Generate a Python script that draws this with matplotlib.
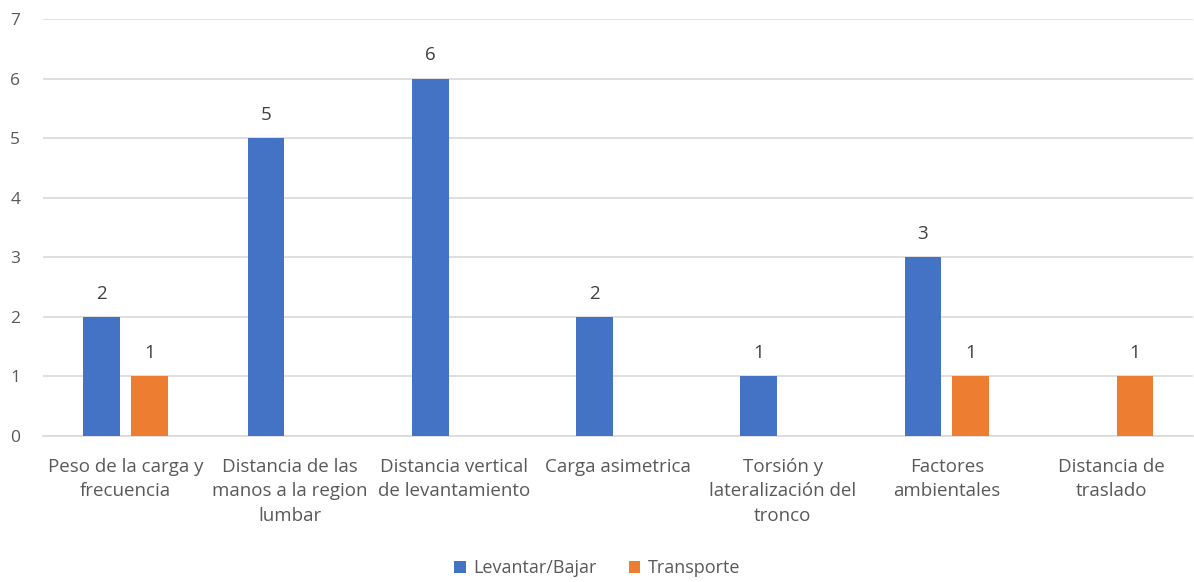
import matplotlib
matplotlib.use("Agg")
import matplotlib.pyplot as plt
import numpy as np

categories = [
    "Peso de la carga y\nfrecuencia",
    "Distancia de las\nmanos a la region\nlumbar",
    "Distancia vertical\nde levantamiento",
    "Carga asimetrica",
    "Torsión y\nlateralización del\ntronco",
    "Factores\nambientales",
    "Distancia de\ntraslado",
]
levantar = [2, 5, 6, 2, 1, 3, 0]
transporte = [1, 0, 0, 0, 0, 1, 1]
series_names = ["Levantar/Bajar", "Transporte"]
colors = ["#4472C4", "#ED7D31"]
yticks = [0, 1, 2, 3, 4, 5, 6, 7]

plt.rcParams['font.family'] = ['Open Sans', 'DejaVu Sans']
text_color = "#595959"

fig = plt.figure(figsize=(11.94, 5.82), dpi=100)
ax = fig.add_axes([0.0364, 0.251, 0.963, 0.716])

x = np.arange(len(categories))
width = 0.223
offset = 0.1455
for vals, name, col, off in zip([levantar, transporte], series_names, colors, [-offset, offset]):
    bars = ax.bar(x + off, vals, width, color=col, label=name, zorder=3)
    for b, v in zip(bars, vals):
        if v > 0:
            ax.text(b.get_x() + b.get_width() / 2, v + 0.24, str(v),
                    ha="center", va="bottom", fontsize=13.5, color="#404040")

ax.set_xlim(-0.5, len(categories) - 0.5)
ax.set_ylim(0, 7)
ax.set_yticks(yticks)
ax.set_yticklabels([str(t) for t in yticks], fontsize=12.5, color=text_color)
ax.set_xticks(x)
ax.set_xticklabels(categories, fontsize=13.5, color=text_color, linespacing=1.45)
ax.tick_params(axis="both", length=0)
ax.tick_params(axis="x", pad=16)
ax.tick_params(axis="y", pad=24)
for lbl in ax.get_yticklabels():
    lbl.set_horizontalalignment("left")
ax.yaxis.grid(True, color="#D9D9D9", linewidth=1.2, zorder=0)
for s in ["top", "right", "left"]:
    ax.spines[s].set_visible(False)
ax.spines["bottom"].set_color("#D9D9D9")
ax.spines["bottom"].set_linewidth(1.2)

fig.legend(loc="center", bbox_to_anchor=(0.5, 1 - 568 / 582), ncol=2, frameon=False,
           fontsize=13, handlelength=0.65, handleheight=0.65, handletextpad=0.4,
           columnspacing=1.8, labelcolor=text_color)

fig.savefig("out.png", dpi=100, facecolor="white")
